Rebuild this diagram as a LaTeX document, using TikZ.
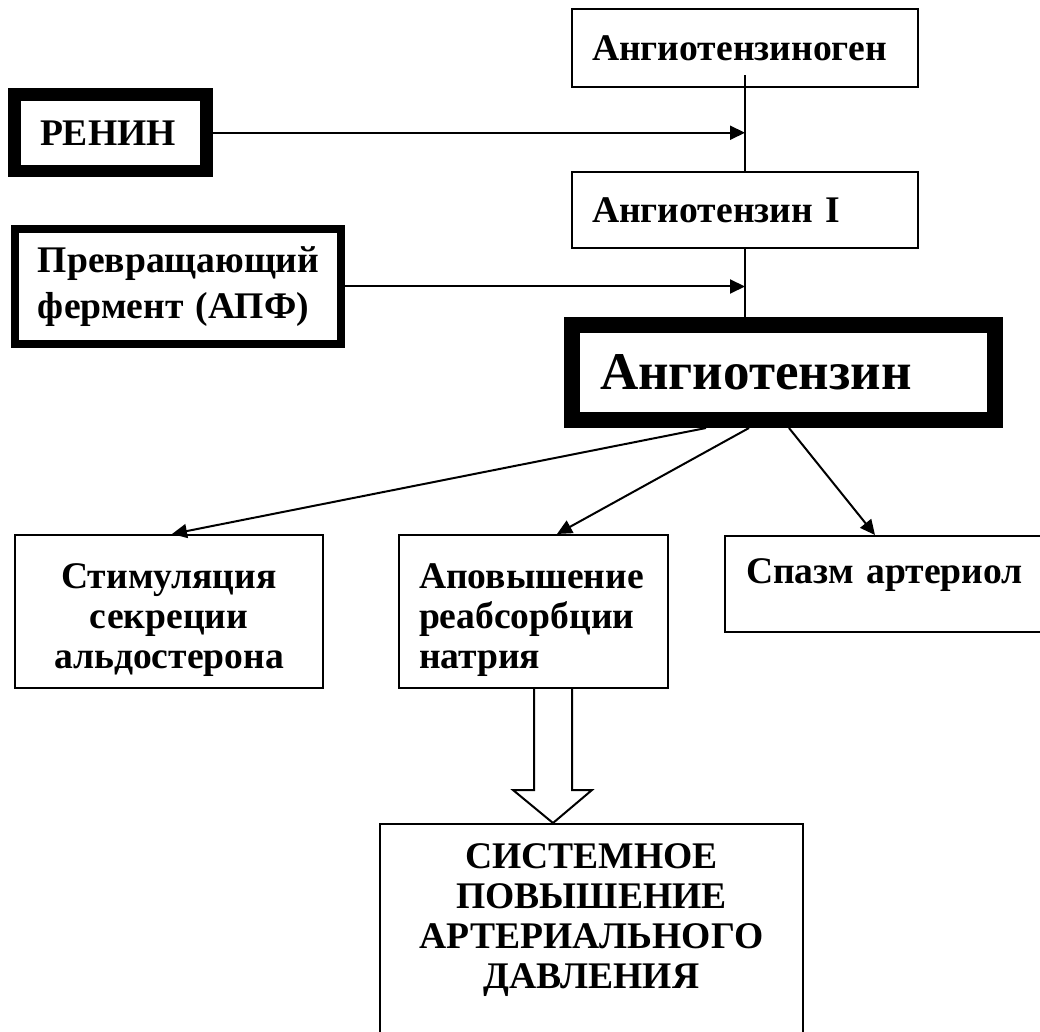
\documentclass[tikz,border=0pt]{standalone}
\usepackage{fontspec}
\setmainfont{Liberation Serif}
\usepackage{tikz}
\usetikzlibrary{arrows.meta,calc}

\begin{document}
\begin{tikzpicture}[x=0.5pt,y=-0.5pt,
	txt/.style={font=\bfseries\fontsize{18.8pt}{20pt}\selectfont},
	box/.style={draw, line width=1pt, txt, align=left, inner xsep=10pt, inner ysep=0pt},
	arr/.style={-{Triangle[length=7.5pt,width=7pt]}, line width=1pt}]

	\useasboundingbox (0,0) rectangle (1040,1032);
	\clip (0,0) rectangle (1040,1032);

	% chain
	\node[box, text width=153pt, minimum height=39pt] (agen) at (745,48.5) {Ангиотензиноген};
	\node[box, text width=153pt, minimum height=38pt] (ang1) at (745,210) {Ангиотензин I};
	\node[box, line width=8pt, inner xsep=14pt, text width=183.5pt, minimum height=47.5pt,
		font=\bfseries\fontsize{26.5pt}{26.5pt}\selectfont] (ang) at (783.5,372.5) {Ангиотензин};

	% enzymes
	\node[box, line width=6.25pt, inner xsep=12.75pt, text width=70.5pt, minimum height=38.25pt] (renin) at (110.5,132.75) {РЕНИН};
	\node[box, line width=4pt, inner xsep=11.5pt, text width=140pt, minimum height=57.5pt,
		font=\bfseries\fontsize{18.8pt}{23pt}\selectfont] (apf) at (178,286.5) {Превращающий\\фермент (АПФ)};

	% effects
	\node[box, align=center, text width=134pt, minimum height=76.5pt, text height=21.5pt] (stim) at (169,611.5) {Стимуляция\\секреции\\альдостерона};
	\node[box, text width=114.5pt, minimum height=76.5pt, text height=21.5pt] (napr) at (533.5,611.5) {Аповышение\\реабсорбции\\натрия};
	\node[box, inner xsep=10.5pt, text width=160pt, minimum height=48pt, text depth=13pt] (spasm) at (906,584) {Спазм артериол};

	% result
	\node[box, align=center, anchor=north, text width=191.5pt, inner ysep=10pt, text depth=200pt] (sys) at (591.5,823)
		{СИСТЕМНОЕ\\ПОВЫШЕНИЕ\\АРТЕРИАЛЬНОГО\\ДАВЛЕНИЯ};

	% |
	\draw[line width=1pt] ($(agen.south)+(0,-13)$) -- (ang1.north);
	\draw[line width=1pt] (ang1.south) -- (ang1.south |- ang.north);
	% ->
	\draw[arr] (renin.east) -- (renin.east -| agen.south);
	\draw[arr] (apf.east) -- (apf.east -| ang1.south);

	% fan out
	\draw[arr] ($(ang.south)+(-77.5,0)$) -- ($(stim.north)+(3,0)$);
	\draw[arr] ($(ang.south)+(-34.5,0)$) -- ($(napr.north)+(23.5,0)$);
	\draw[arr] ($(ang.south)+(5.5,0)$) -- ($(spasm.north)+(-31,0)$);

	% hollow arrow
	\coordinate (hx) at (553,0);
	\draw[line width=1pt] ($(hx |- napr.south)+(-19,0)$) -- ++(0,101) -- ++(-21,0) -- (hx |- sys.north)
		-- ++(39,-33) -- ++(-20,0) -- ($(hx |- napr.south)+(19,0)$);
\end{tikzpicture}
\end{document}
